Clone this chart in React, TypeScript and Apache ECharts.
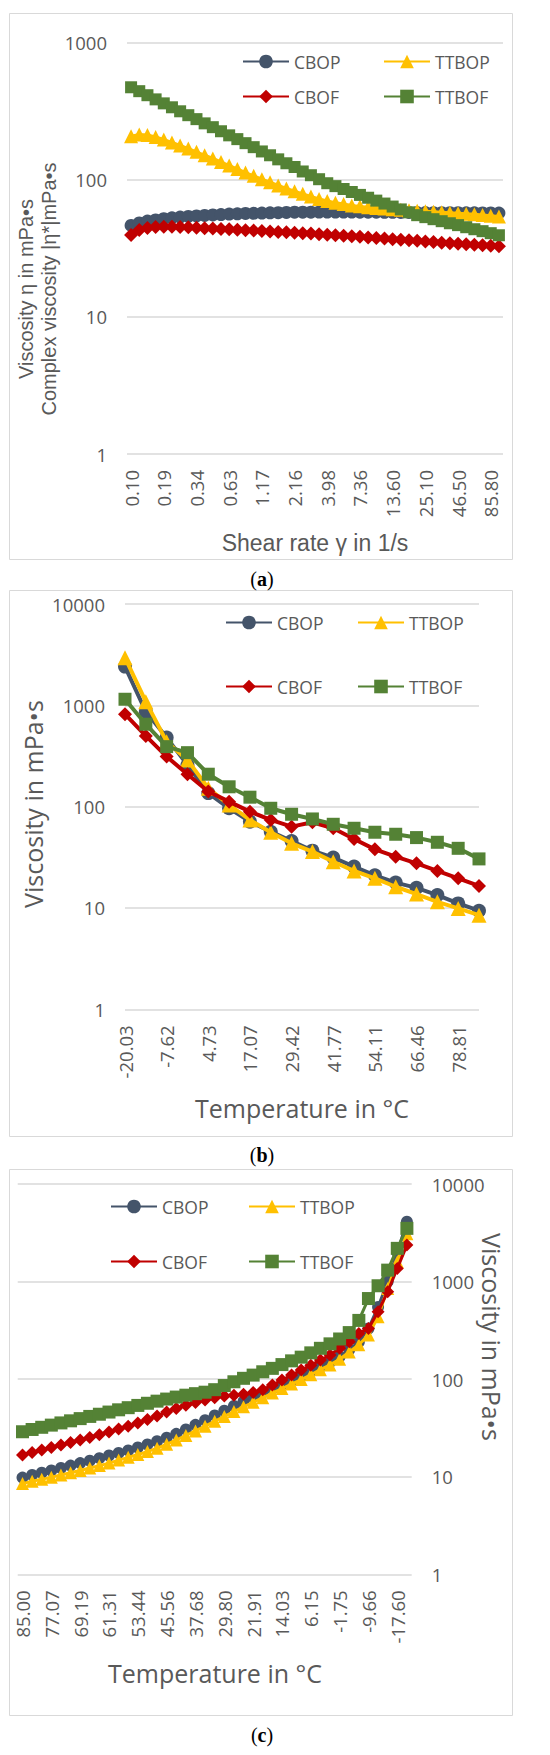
import React, { useEffect, useRef } from "react";
import * as echarts from "echarts";

// ---------- Panel (a): shear-rate sweep ----------
const shearRates = ["0.10","0.12","0.14","0.16","0.19","0.22","0.25","0.29","0.34","0.40","0.46","0.54","0.63","0.74","0.86","1.00","1.17","1.36","1.59","1.85","2.16","2.51","2.93","3.41","3.98","4.64","5.41","6.31","7.36","8.58","10.00","11.70","13.60","15.80","18.50","21.50","25.10","29.30","34.10","39.80","46.50","54.10","63.10","73.60","85.80","100.00"];
const aCBOP = [46.5,48.5,50,51,52,52.8,53.5,54,54.5,55,55.4,55.8,56.2,56.5,56.8,57,57.2,57.4,57.6,57.8,58,58,58.1,58.2,58.2,58.2,58.2,58.2,58.1,58,58,57.9,57.9,57.8,57.8,57.7,57.7,57.6,57.6,57.5,57.5,57.4,57.4,57.3,57.3,57.2];
const aTTBOP = [208,214,212,205,197,187,178,169,160,151,143,135,127,120,113,107,101,96,91,86.5,82.5,79,75.5,72.5,70,68,66.5,65,64,63,62.3,61.7,61,60.5,60,59.5,59,58.5,58,57.5,57,56.5,56,55.3,54.6,54];
const aCBOF = [39.5,43,44.5,45.3,45.5,45.5,45.3,45,44.7,44.4,44.1,43.8,43.5,43.2,42.9,42.6,42.3,42,41.7,41.4,41.1,40.8,40.5,40.1,39.8,39.4,39.1,38.7,38.4,38,37.6,37.3,36.9,36.6,36.2,35.9,35.5,35.2,34.8,34.5,34.2,33.9,33.6,33.3,33,32.7];
const aTTBOF = [473,443,414,386,361,338,316,296,277,258,242,226,211,198,185,173,161,151,141,132,124,115,108,101,94.4,89.9,85.7,81.5,77.6,74.0,70.5,67.1,63.8,60.8,57.9,55.2,53.4,51.6,49.9,48.2,46.7,45.1,43.6,42.2,40.8,39.4];

// ---------- Panel (b): heating ----------
const tempsB = ["-20.03","-13.86","-7.62","-1.45","4.73","10.90","17.07","23.25","29.42","35.60","41.77","47.94","54.11","60.29","66.46","72.64","78.81","84.98"];
const bCBOP = [2410,867,480,258,136,96.4,71.1,56.6,45.8,36.8,31.4,25.6,21,17.8,15.8,13.4,11.1,9.4];
const bTTBOP = [2950,1087,438,289,152,104,73.9,55.9,43.5,36,28.6,23.2,19.6,16.2,13.7,11.5,9.9,8.5];
const bCBOF = [817,499,312,209,141,112,89.3,73.9,63.5,70.2,61.2,48,37.9,32.1,27.6,23.2,19.6,16.5];
const bTTBOF = [1148,651,391,341,209,157,124,96.4,84.1,75.6,67,61.2,55.9,53.4,49.5,44.5,38.8,30.5];

// ---------- Panel (c): cooling ----------
const tempsC = ["85.00","82.38","79.73","77.07","74.44","71.82","69.19","66.56","63.94","61.31","58.68","56.06","53.44","50.81","48.18","45.56","42.93","40.30","37.68","35.05","32.42","29.80","27.17","24.54","21.91","19.28","16.66","14.03","11.40","8.78","6.15","3.52","0.88","-1.75","-4.39","-7.02","-9.66","-12.30","-14.94","-17.60","-20.23"];
const cCBOP = [9.8,10.4,11.0,11.6,12.3,13.0,13.8,14.6,15.5,16.5,17.5,18.6,19.9,21.4,23.1,25.1,27.5,30.5,34,38,42.5,47.5,53,59,65.5,72.5,80,88,97,107,119,133,149,170,200,240,330,550,1000,2000,4100];
const cTTBOP = [8.5,9.0,9.4,9.9,10.4,11.0,11.6,12.3,13.0,13.8,14.8,15.8,16.9,18.1,19.6,21.5,23.8,26.5,29.5,33,37,41.5,46.5,52,58,64.5,72,80,89,99,111,125,140,160,190,225,283,436,850,1600,3100];
const cCBOF = [16.7,17.7,18.8,19.9,21.1,22.4,23.8,25.3,27,28.8,30.8,33,35.5,38.5,42,46,50,54,57.5,61,64.5,67,68.5,70,73,78,87,98,110,124,139,157,177,207,242,294,331,491,787,1365,2366];
const cTTBOF = [28.9,30.5,32.1,33.8,35.6,37.4,39.4,41.5,43.7,46.0,48.5,51.0,53.8,56.6,59.5,62.5,65.5,68.5,71,73.5,78,86,94,102,110,119,129,141,154,168,186,207,230,258,300,400,670,906,1310,2190,3510];

const seriesNames = ["CBOP", "TTBOP", "CBOF", "TTBOF"];
const colors: Record<string, string> = { CBOP: "#44546A", TTBOP: "#FFC000", CBOF: "#C00000", TTBOF: "#548235" };
const symbols: Record<string, string> = { CBOP: "circle", TTBOP: "triangle", CBOF: "diamond", TTBOF: "rect" };

const GRAY = "#595959";
const SANS = "'Open Sans', 'Noto Sans', sans-serif";
const ARIAL = "'Liberation Sans', Arial, sans-serif";
const SERIF = "'Liberation Serif', 'DejaVu Serif', serif";

function App() {
  const ref = useRef<HTMLDivElement>(null);

  useEffect(() => {
    if (!ref.current) return;
    const chart = echarts.init(ref.current, undefined, { renderer: "svg" });

    const panels = [
      { data: [aCBOP, aTTBOP, aCBOF, aTTBOF], sizes: [13, 14, 14, 12], width: 3 },
      { data: [bCBOP, bTTBOP, bCBOF, bTTBOF], sizes: [14, 15, 14, 13], width: 4 },
      { data: [cCBOP, cTTBOP, cCBOF, cTTBOF], sizes: [12, 13, 13, 13], width: 3 },
    ];

    const series: any[] = [];
    panels.forEach((p, gi) => {
      seriesNames.forEach((name, si) => {
        series.push({
          type: "line",
          name,
          xAxisIndex: gi,
          yAxisIndex: gi,
          data: p.data[si],
          symbol: symbols[name],
          symbolSize: p.sizes[si],
          showAllSymbol: true,
          lineStyle: { color: colors[name], width: p.width },
          itemStyle: { color: colors[name] },
          z: 2 + si,
          emphasis: { disabled: true },
        });
      });
    });

    const legendSpots: [string, number, number][] = [
      ["CBOP", 242, 61], ["TTBOP", 383, 61], ["CBOF", 242, 96], ["TTBOF", 383, 96],
      ["CBOP", 225, 622], ["TTBOP", 357, 622], ["CBOF", 225, 686], ["TTBOF", 357, 686],
      ["CBOP", 110, 1206], ["TTBOP", 248, 1206], ["CBOF", 110, 1261], ["TTBOF", 248, 1261],
    ];
    const legend = legendSpots.map(([name, x, y]) => ({
      data: [name],
      left: x,
      top: y - 8.5,
      padding: 0,
      itemWidth: 46,
      itemHeight: 17,
      selectedMode: false,
      textStyle: { fontSize: 17.5, color: GRAY, fontFamily: SANS, lineHeight: 17 },
    }));

    const logFmt = (v: number) => String(Math.round(v));
    const mkY = (max: number, position: string) => ({
      type: "log",
      logBase: 10,
      min: 1,
      max,
      position,
      axisLine: { show: false },
      axisTick: { show: false },
      splitLine: { show: true, lineStyle: { color: "#d9d9d9", width: 1.5 } },
      axisLabel: { formatter: logFmt, color: GRAY, fontSize: 18.5, fontFamily: SANS, margin: 20 },
    });
    const mkX = (cats: string[], interval: number, boundaryGap: boolean) => ({
      type: "category",
      data: cats,
      boundaryGap,
      axisLine: { show: false },
      axisTick: { show: false },
      splitLine: { show: false },
      axisLabel: { rotate: 90, interval, color: GRAY, fontSize: 18.5, fontFamily: SANS, margin: 16 },
    });

    const caption = (letter: string, y: number) => ({
      type: "text",
      x: 262,
      y,
      style: {
        text: `{p|(}{b|${letter}}{p|)}`,
        align: "center",
        verticalAlign: "middle",
        rich: {
          p: { fontFamily: SERIF, fontSize: 20, fill: "#000" },
          b: { fontFamily: SERIF, fontSize: 20, fontWeight: "bold", fill: "#000" },
        },
      },
    });
    const title = (text: string, x: number, y: number, rotation: number, fontSize: number, fontFamily: string, lineHeight?: number) => ({
      type: "text",
      x,
      y,
      rotation,
      style: { text, fill: GRAY, fontSize, fontFamily, align: "center", verticalAlign: "middle", lineHeight: lineHeight || fontSize * 1.2 },
    });
    const frame = (y: number) => ({
      type: "rect",
      shape: { x: 9.5, y, width: 503, height: 546 },
      style: { fill: "none", stroke: "#d9d9d9", lineWidth: 1 },
      silent: true,
    });

    chart.setOption({
      animation: false,
      backgroundColor: "#fff",
      textStyle: { fontFamily: SANS },
      grid: [
        { left: 127, top: 42.7, width: 376, height: 411.3 },
        { left: 125, top: 604, width: 354, height: 405.3 },
        { left: 17.7, top: 1184, width: 394, height: 390.3 },
      ],
      xAxis: [
        { ...mkX(shearRates, 3, true), gridIndex: 0 },
        { ...mkX(tempsB, 1, false), gridIndex: 1 },
        { ...mkX(tempsC, 2, true), gridIndex: 2 },
      ],
      yAxis: [
        { ...mkY(1000, "left"), gridIndex: 0 },
        { ...mkY(10000, "left"), gridIndex: 1 },
        { ...mkY(10000, "right"), gridIndex: 2 },
      ],
      legend,
      series,
      graphic: [
        frame(13.5),
        frame(590.5),
        frame(1169.5),
        caption("a", 579),
        caption("b", 1155),
        caption("c", 1735),
        title("Viscosity η in mPa•s\nComplex viscosity |η*|mPa•s", 37.5, 289, Math.PI / 2, 20, ARIAL, 23.5),
        title("Shear rate γ in 1/s", 315, 543, 0, 23, ARIAL),
        title("Viscosity in mPa•s", 33, 804, Math.PI / 2, 25, SANS),
        title("Temperature in °C", 302, 1108, 0, 25, SANS),
        title("Viscosity in mPa•s", 492, 1337, -Math.PI / 2, 25, SANS),
        title("Temperature in °C", 215, 1673, 0, 25, SANS),
      ],
    });

    return () => chart.dispose();
  }, []);

  return (
    <div
      ref={ref}
      style={{ position: "absolute", left: 0, top: 0, width: 550, height: 1755, background: "#fff" }}
    />
  );
}

export default App;
